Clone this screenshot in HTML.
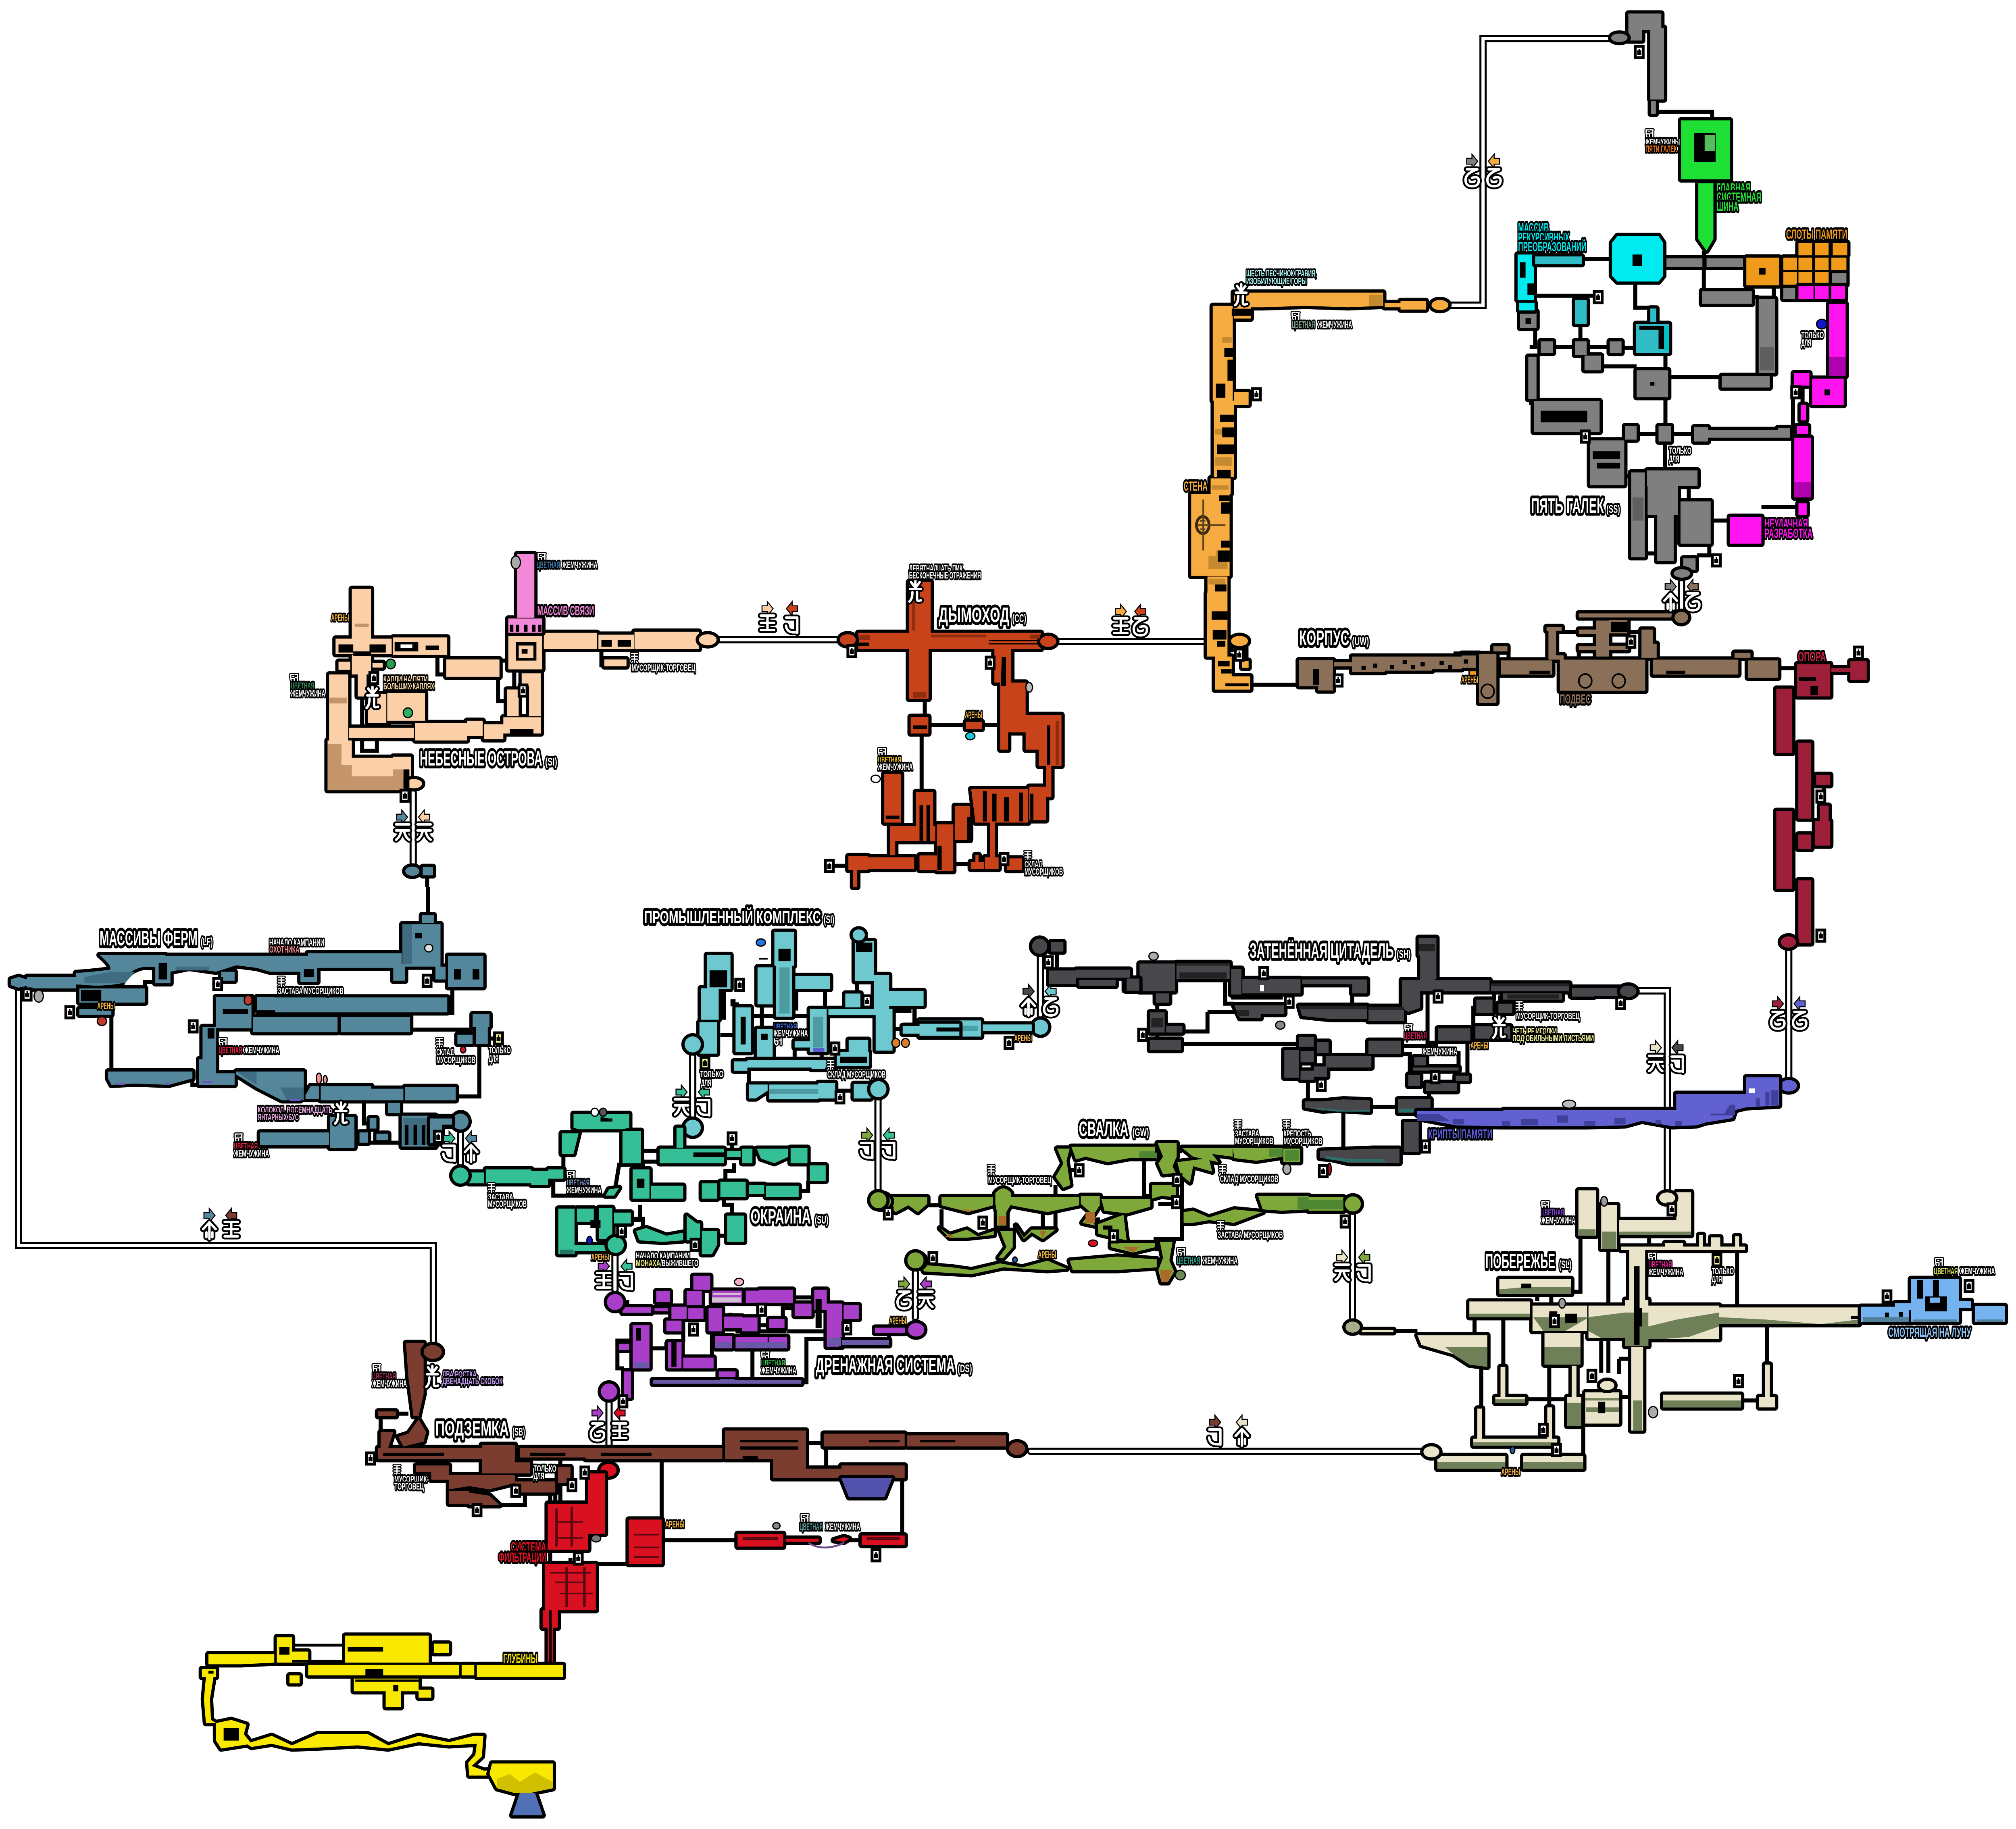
<!DOCTYPE html>
<html lang="ru"><head><meta charset="utf-8"><title>Карта</title>
<style>
html,body{margin:0;padding:0;background:#fff;width:100%;height:4537px;overflow:hidden}
svg{display:block;width:100%;height:4537px}
svg *{vector-effect:non-scaling-stroke}
.l{fill:none;stroke:#000;stroke-width:10}
.r{stroke:#000;stroke-width:16;stroke-linejoin:round;paint-order:stroke}
.o{fill:none;stroke:#000;stroke-width:18;stroke-linecap:round;stroke-linejoin:miter}
.i{fill:none;stroke:#fff;stroke-width:8;stroke-linecap:round;stroke-linejoin:miter}
.b{fill:none;stroke:#000;stroke-width:15;stroke-linecap:round;stroke-linejoin:round}
.w{fill:none;stroke:#fff;stroke-width:6;stroke-linecap:round;stroke-linejoin:round}
.bs{fill:none;stroke:#000;stroke-width:8;stroke-linecap:round}
.ws{fill:none;stroke:#fff;stroke-width:3;stroke-linecap:round}
text{font-family:"Liberation Sans Narrow","Liberation Sans","Noto Sans CJK SC",sans-serif;paint-order:stroke;stroke:#000;stroke-linejoin:round}
.h{font-size:52px;font-weight:700;fill:#fff;stroke-width:13}
.m{font-size:28px;font-weight:700;fill:#fff;stroke-width:9}
.c{font-size:32px;font-weight:700;stroke-width:10}
.s{font-size:23px;font-weight:700;fill:#fff;stroke-width:8}
</style></head><body>
<svg xmlns="http://www.w3.org/2000/svg" viewBox="0 0 6094 4537" preserveAspectRatio="none">
<defs>
<path id="ar" stroke="#000" stroke-width="5" paint-order="stroke" d="M-15-6H1V-14L15 0L1 14V6H-15Z"/>
<path id="al" stroke="#000" stroke-width="5" paint-order="stroke" d="M15-6H-1V-14L-15 0L-1 14V6H15Z"/>
<path id="p1" d="M-19 0L0-17L19 0M0-17V24M-9 8V20M9 8V20"/>
<path id="p2" d="M-18-16H16V22M-18 4Q-16 24 16 20"/>
<path id="p3" d="M-20-18H20M-20 0H20M-20 18H20M0-18V18"/>
<path id="p4" d="M-20-18H20M-20-3H20M-4-3Q-8 14-20 20M4-3Q8 14 20 20"/>
<path id="p5" d="M-16-18H16Q-20-8-20 8Q-20 24 0 24Q20 24 20 10Q20-2 0 3"/>
<g id="s1"><use href="#p1" class="b"/><use href="#p1" class="w"/></g>
<g id="s2"><use href="#p2" class="b"/><use href="#p2" class="w"/></g>
<g id="s3"><use href="#p3" class="b"/><use href="#p3" class="w"/></g>
<g id="s4"><use href="#p4" class="b"/><use href="#p4" class="w"/></g>
<g id="s5"><use href="#p5" class="b"/><use href="#p5" class="w"/></g>
<path id="pq" d="M-9-12H9M-9-5H9M-9 2H9M0-12V12M-6 8L-9 12M6 8L9 12"/>
<path id="pp" d="M-10-10H-1M-10-10Q-11 8 -4 10Q2 8 0 0H-8M3-10H11M4-2H10M10-10V10"/>
<path id="pf" d="M-13-22L0-8L13-22M0-26V-8M-16-5H16M-9 3Q-9 20-18 26M5 3V20Q5 27 17 23"/>
<g id="q"><use href="#pq" class="bs"/><use href="#pq" class="ws"/></g>
<g id="pe"><use href="#pp" class="bs"/><use href="#pp" class="ws"/></g>
<g id="fl"><use href="#pf" class="b"/><use href="#pf" class="w"/></g>
<g id="sh"><rect x="-12" y="-14" width="24" height="28" fill="#fff" stroke="#000" stroke-width="7"/><path fill="#000" d="M-6-4H-2V-8H2V-4H6V7H-6Z"/></g>
<g id="sy"><rect x="-12" y="-14" width="24" height="28" fill="#f8f68a" stroke="#000" stroke-width="7"/><path fill="#000" d="M-6-4H-2V-8H2V-4H6V7H-6Z"/></g>
</defs>

<!-- double gate lines -->
<g>
<path class="o" d="M56 2460V3090H1310V3330M1249 1966V2141M2175 1587H2531M3201 1591H3640M4384 757H4483V96H4860M5083 1445V1514M5407 2358V2674M4955 2458H5040V2955M2094 2617V2767M3145 2371V2518M1392 2809V2885M1859 3115V3199M2654 2728V2950M2767 3157V3268M4088 3014V3272M1841 3478V3584M3115 3600H4294"/>
<path class="i" d="M56 2460V3090H1310V3330M1249 1966V2141M2175 1587H2531M3201 1591H3640M4384 757H4483V96H4860M5083 1445V1514M5407 2358V2674M4955 2458H5040V2955M2094 2617V2767M3145 2371V2518M1392 2809V2885M1859 3115V3199M2654 2728V2950M2767 3157V3268M4088 3014V3272M1841 3478V3584M3115 3600H4294"/>
</g>

<!-- FARM -->
<g transform="translate(0 2200) scale(1.0204 .6378)">
<path class="l" d="M1268 0V112M1340 390V490H1240M430 395V370H470M330 497V718M1215 555H1400M1420 610V815H1345M1078 830V920H1095M1090 995H1190M1160 830V880M640 555H600M570 740V770H600M640 760H700M905 825H950M1300 325H1327M1480 590H1445"/>
<path class="r" fill="#55879c" d="M32 360L55 350L80 360V385L55 392L32 382ZM80 350H225V395H80ZM295 265H490V315L430 310Q380 320 360 375Q300 390 240 380L225 380V335Q280 330 325 322Q335 310 295 265ZM490 268H912V330H800L760 315L700 305L640 330L560 315L505 330H490ZM912 258H1190V315H912ZM890 310H940V370H890ZM460 290H505V375H460ZM655 330H695V365H655ZM1165 300H1200V365H1165ZM1192 145H1305V310H1192ZM1250 110H1285V140H1250ZM1290 310H1320V360H1290ZM1327 268H1432V390H1327ZM235 395H430V450H235ZM235 475H330V497H235ZM640 428H745V550H640ZM762 428H815V480H762ZM815 430H1325V488H815ZM750 505H1000V565H750ZM1010 505H1215V565H1010ZM1400 495H1450V545H1400ZM1410 545H1445V610H1410ZM1355 575H1400V610H1355ZM320 718H570V745L500 770L400 765L330 770L320 745ZM590 670H640V770H590ZM600 545H640V670H600ZM640 725H695V770H640ZM700 718H900V820L890 830H835L760 780L700 730ZM920 775H945V825H905V810ZM950 775H1100V830H950ZM1100 785H1195V830H1100ZM1200 778H1350V830H1200ZM1150 840H1185V880H1150ZM1190 890H1290V1010H1190ZM1295 895H1340V930H1295ZM1095 900H1115V940H1095ZM1065 955H1090V995H1065ZM1115 960H1150V985H1115ZM770 955H975V1005H770ZM978 895H1050V1015H978Z"/>
<ellipse class="r" fill="#55879c" cx="1365" cy="910" rx="22" ry="30"/>
<path fill="#3f6c80" d="M330 330H400L370 375H250V350ZM520 310H620V325H520ZM1192 145H1220V300H1192ZM1195 900H1285V1005H1195ZM700 718H760V770ZM830 780H900V830H850Z"/>
<path fill="#000" d="M470 295H495V360H470ZM900 320H930V350H900ZM240 400H300V445H240ZM660 475H735V495H660ZM615 550H635V590H615ZM1200 925H1210V1005H1200ZM1225 925H1235V1005H1225ZM1250 925H1260V1005H1250ZM1270 925H1280V1005H1270ZM1345 320H1365V360H1345ZM1400 320H1420V360H1400ZM1230 180H1250V200H1230Z"/>
<path fill="#6a58b8" d="M345 762H370V770H345ZM490 762H505V770H490ZM600 755H630V764H600ZM860 825H890V833H860Z"/>
<ellipse fill="#ddd" stroke="#000" stroke-width="3" cx="1270" cy="238" rx="12" ry="15"/>
</g>

<!-- SKY ISLANDS -->
<g transform="translate(800 1300) scale(.8929 .574)">
<path class="l" d="M585 565V650H615M795 590H825M790 660V765H820M550 1520V1568M1140 540V610H1150M360 700H375V640M845 640V720H820M875 700H895M330 745V880M420 860V880M330 925V980H380V925M280 900V1000"/>
<path class="r" fill="#fbd0a9" d="M295 280H360V495H295ZM240 495H430V562H240ZM435 490H618V565H435ZM295 565H360V650H345V745H315V650H295ZM250 595H290V630H250ZM365 600H400V620H365ZM218 650H283V935H218ZM213 935H295V1150H213ZM295 1010H435V1150H295ZM435 1005H495V1100H470V1150H435ZM615 585H795V660H615ZM825 470H940V628H825ZM945 470H1125V540H945ZM1130 478H1250V540H1130ZM1252 465H1470V540H1252ZM1150 585H1225V615H1150ZM350 735H412V860H350ZM415 730H543V850H415ZM285 880H505V925H285ZM510 860H685V935H510ZM685 850H738V915H685ZM742 865H808V930H742ZM808 835H935V905H808ZM820 715H860V830H820ZM895 700H935V830H895ZM870 645H935V700H870Z"/>
<ellipse class="r" fill="#fbd0a9" cx="1500" cy="500" rx="30" ry="24"/>
<ellipse class="r" fill="#fbd0a9" cx="505" cy="1122" rx="28" ry="20"/>
<path class="r" fill="#f488d8" d="M855 130H913V405H855ZM825 408H940V470H825Z"/>
<path fill="#c4946a" d="M213 1040H295V1150H213ZM295 1090H435V1150H295ZM213 950H260V1040H213ZM435 1060H470V1150H435ZM218 750H278V775H218ZM305 430H352V445H305Z"/>
<path fill="#000" d="M250 520H300V555H250ZM355 520H410V555H355ZM300 550H360V570H300ZM440 510H520V550H440ZM545 525H590V545H545ZM1140 500H1175V530H1140ZM1195 500H1240V530H1195ZM850 510H920V525H850ZM850 525H860V590H850ZM910 525H920V590H910ZM860 580H910V590H860ZM870 540H890V560H870ZM850 435H862V465H850ZM878 435H890V465H878ZM905 435H917V465H905ZM830 435H842V465H830ZM925 435H937V465H925ZM470 1060H490V1140H470ZM830 885H910V905H830ZM1140 590H1150V610H1140Z"/>
<path fill="#fff" d="M460 520H500V535H460Z"/>
<ellipse class="r" fill="#55879c" cx="500" cy="1500" rx="24" ry="20"/>
<path class="r" fill="#55879c" d="M535 1482H570V1518H535Z"/>
</g>

<!-- CHIMNEY -->
<g transform="translate(2400 1300) scale(.6378 .574)">
<path class="l" d="M620 755V835M605 905V1160M640 868H815M890 868H975M750 1470H838M190 1477H258M570 1477H595"/>
<path class="r" fill="#c9431a" d="M545 250H648V470H545ZM305 470H1170V540H305ZM545 540H638V755H545ZM950 540H1030V685H950ZM978 685H1015V975H978ZM1015 685H1098V900H1015ZM1098 825H1160V975H1098ZM1160 825H1268V1045H1160ZM1195 1045H1220V1180H1195ZM1115 1135H1195V1280H1115ZM840 1145H1110V1290H860ZM762 1218H835V1365H762ZM678 1298H755V1500H678ZM480 1305H670V1370H480ZM578 1158H660V1305H578ZM455 1305H480V1430H455ZM428 1080H508V1290H428ZM258 1435H350V1495H258ZM350 1440H570V1490H350ZM595 1432H680V1495H595ZM838 1460H860V1430H875V1460H900V1490H838ZM905 1440H970V1490H905ZM930 1290H952V1440H930ZM1010 1445H1080V1495H1010ZM280 1495H300V1568H280ZM553 833H637V905H553ZM815 855H890V885H815Z"/>
<ellipse class="r" fill="#c9431a" cx="255" cy="500" rx="38" ry="24"/>
<ellipse class="r" fill="#c9431a" cx="1205" cy="507" rx="38" ry="24"/>
<path fill="#8f2c0e" d="M650 478H910V490H650ZM560 280H575V460H560ZM310 480H360V500H310ZM1120 478H1165V495H1120ZM565 725H625V750H565ZM1240 850H1255V1040H1240Z"/>
<path fill="#000" d="M985 575H1005V700H980ZM595 1215H612V1370H595ZM628 1215H645V1370H628ZM895 1155H915V1285H895ZM940 1165H960V1285H940ZM995 1180H1020V1285H995ZM1068 1160H1085V1285H1068ZM1120 1165H1135V1280H1120ZM1200 870H1215V1040H1200ZM820 1265H835V1365H820ZM680 1390H700V1495H680ZM300 512H355V527H300ZM925 500H1160V506H925ZM925 515H1160V520H925ZM565 870H630V885H565ZM435 1260H500V1275H435Z"/>
</g>

<!-- WALL + start HULL -->
<g transform="translate(3500 650) scale(.6378 .7015)">
<path class="l" d="M835 1422H920M440 1495H665M430 468H445M350 1380V1340M420 1350V1410"/>
<path class="r" fill="#f7ac42" d="M260 155H355V490H260ZM360 108H440V200H360ZM440 108H1068V155L900 160L700 155L500 160H440ZM1075 145H1150V160H1075ZM1150 138H1270V168H1150ZM265 490H360V760H265ZM250 765H345V820H250ZM158 820H340V1110H158ZM235 1112H330V1170H235ZM232 1170H330V1395H232ZM270 1395H350V1465H438V1512H270ZM360 460H430V505H360ZM400 1410H430V1435H400Z"/>
<ellipse class="r" fill="#f7ac42" cx="1337" cy="152" rx="40" ry="18"/>
<ellipse class="r" fill="#f7ac42" cx="387" cy="1340" rx="40" ry="18"/>
<path fill="#c38a2f" d="M1000 115H1065V155H1000ZM240 1040H330V1085H240ZM275 1040H320V1020H275ZM305 265H350V285H305ZM270 590H340V610H270ZM270 690H350V720H270ZM255 790H335V805H255ZM240 1120H320V1140H240Z"/>
<path fill="#000" d="M315 305H355V335H315ZM330 345H355V420H330ZM275 430H320V480H275ZM295 540H360V565H295ZM305 585H360V620H305ZM280 645H360V680H280ZM280 735H345V760H280ZM290 825H340V845H290ZM300 850H345V890H300ZM300 985H340V1010H300ZM285 1020H340V1060H285ZM270 1140H325V1165H270ZM255 1235H330V1265H255ZM260 1300H325V1335H260ZM280 1340H320V1360H280ZM350 165H450V190H350ZM285 1410H340V1430H285ZM300 1440H350V1455H300ZM320 1490H430V1500H320Z"/>
<ellipse fill="none" stroke="#3a2a10" stroke-width="7" cx="213" cy="930" rx="30" ry="30"/>
<path fill="none" stroke="#5a4218" stroke-width="4" d="M215 840V1020M185 930H320M200 915H225M200 945H225"/>
<path class="r" fill="#8b7059" d="M668 1408H830V1515H760V1500H668ZM920 1395H1075V1450H920ZM1075 1395H1300V1445H1075ZM1300 1395H1440V1440H1300ZM1440 1385H1525V1435H1440ZM835 1415H920V1430H835Z"/>
<path fill="#000" d="M735 1440H765V1495H735ZM965 1428H985V1442H965ZM1020 1420H1040V1435H1020ZM1100 1425H1120V1440H1100ZM1160 1408H1180V1422H1160ZM1200 1425H1220V1440H1200ZM1245 1415H1265V1430H1245ZM1335 1410H1355V1425H1335ZM1375 1425H1395V1440H1375ZM1450 1405H1470V1420H1450Z"/>
<path fill="#f7931e" stroke="#000" stroke-width="3" d="M1475 1445H1515V1462H1475Z"/>
</g>

<!-- HULL & SUPPORT -->
<g transform="translate(3900 1450) scale(1.148 .638)">
<path class="l" d="M430 268H535M575 260V295M715 185H760M890 185H925M1285 325H1335M700 280H710M965 265V295M1180 285H1190M1212 285V295M800 290H760V255M1425 332H1475M1323 620H1338M1322 895H1338M1322 1165H1338M1372 760H1385M1372 1015H1382M1405 780V860"/>
<path class="r" fill="#8b7059" d="M497 270H543V460H497ZM555 295H690V350H555ZM710 292H935V413H710ZM805 140H840V290H805ZM760 112H1005V128H760ZM840 138H888V190H840ZM760 240H805V255H760ZM840 238H890V255H840ZM675 165H715V180H675ZM680 180H700V280H680ZM955 292H1180V350H955ZM1205 295H1285V362H1205ZM1170 265H1212V285H1170ZM925 230H965V285H925ZM925 175H955V240H925ZM535 240H572V260H535ZM760 175H805V192H760ZM680 275H720V292H680Z"/>
<ellipse class="r" fill="#8b7059" cx="1030" cy="128" rx="18" ry="22"/>
<path fill="none" stroke="#000" stroke-width="4" d="M760 375a17 27 0 1 0 34 0a17 27 0 1 0-34 0M848 375a17 27 0 1 0 34 0a17 27 0 1 0-34 0M503 415a17 27 0 1 0 34 0a17 27 0 1 0-34 0"/>
<path fill="#000" d="M805 280H840V292H805ZM845 145H888V185H845ZM630 335H685V348H630ZM990 335H1040V348H990Z"/>
<path class="r" fill="#9e1f3a" d="M1335 310H1422V435H1335ZM1425 325H1475V340H1425ZM1475 298H1518V370H1475ZM1280 405H1322V655H1280ZM1338 615H1372V910H1338ZM1385 740H1422V780H1385ZM1395 860H1418V920H1395ZM1382 920H1422V1015H1382ZM1338 972H1372V1028H1338ZM1280 880H1322V1183H1280ZM1338 1150H1372V1395H1338Z"/>
<ellipse class="r" fill="#9e1f3a" cx="1312" cy="1390" rx="20" ry="22"/>
<path fill="#000" d="M1340 360H1385V375H1340ZM1370 395H1390V430H1370Z"/>
</g>

<!-- FIVE PEBBLES -->
<g transform="translate(4400 0) scale(.8291 .9566)">
<path class="l" d="M730 290H935V312M655 730V798H720M285 767H505M905 650V760M290 850V900H270M355 900H435M478 900H562M605 902H660M765 915V960M530 950H660M775 978H970M765 1030V1105M660 1125H740M785 1125H870M763 1145V1220M850 1260V1310M930 1350H1000M1115 1315H1250M1220 1125H1230V1010M1160 775V745M925 1410V1440H880M615 1235H640M690 1435H735M275 1035V1050M1265 1000V1050M1265 1090V1105M1265 1125V1135M1265 1290V1305M1080 770H1105M1140 968V975M455 840V885M460 672H570"/>
<path class="r" fill="#7f7f7f" d="M630 35H750V78H680V105H630ZM710 72H760V258H710ZM712 262H730V295H712ZM757 670H900V692H757ZM915 670H1055V692H915ZM1370 705H1425V738H1370ZM1195 742H1245V775H1195ZM898 755H1080V788H898ZM1105 775H1165V968H1105ZM970 975H1145V1005H970ZM660 960H775V1030H660ZM235 808H295V850H235ZM310 885H355V915H310ZM435 885H478V920H435ZM562 885H605V915H562ZM470 922H530V960H470ZM265 925H295V1035H265ZM285 1040H525V1120H285ZM490 1142H615V1258H490ZM618 1105H660V1140H618ZM740 1105H785V1145H740ZM870 1108H920V1145H870ZM920 1115H1190V1135H920ZM1175 1110H1220V1135H1175ZM640 1225H690V1445H640ZM698 1220H882V1260H698ZM700 1260H810V1335H700ZM735 1335H795V1455H735ZM820 1300H930V1410H820ZM830 1448H875V1478H830Z"/>
<ellipse class="r" fill="#7f7f7f" cx="597" cy="98" rx="30" ry="11"/>
<ellipse class="r" fill="#7f7f7f" cx="825" cy="1487" rx="30" ry="11"/>
<path class="r" fill="#1ee034" d="M822 312H1000V465H822ZM885 475H940V620L915 650L885 620Z"/>
<path class="r" fill="#00eaf0" d="M570 630L590 612H740L757 630V715L740 730H590L570 715ZM226 660H285V778H226ZM232 785H288V805H232Z"/>
<path class="r" fill="#30bcc6" d="M290 665H460V685H290ZM658 840H778V915H658ZM435 778H478V840H435ZM710 800H732V835H710Z"/>
<path class="r" fill="#f09a1c" d="M1060 668H1180V740H1060ZM1250 630H1300V662H1250ZM1310 630H1360V662H1310ZM1375 630H1428V662H1375ZM1195 668H1245V700H1195ZM1250 668H1300V700H1250ZM1310 668H1360V700H1310ZM1370 668H1425V700H1370ZM1195 705H1245V738H1195ZM1250 705H1300V738H1250ZM1310 705H1360V738H1310Z"/>
<path class="r" fill="#ff14f0" d="M1250 742H1305V775H1250ZM1310 742H1360V775H1310ZM1370 742H1420V775H1370ZM1362 788H1422V975H1362ZM1300 982H1415V1050H1300ZM1233 968H1290V1000H1233ZM1258 1050H1278V1090H1258ZM1245 1105H1285V1125H1245ZM1235 1135H1295V1290H1235ZM1250 1305H1280V1335H1250ZM1000 1340H1115V1410H1000Z"/>
<path fill="#000" d="M645 660H680V690H645ZM870 345H948V420H870ZM885 405H900V420H885ZM885 405H935V412H885ZM1107 695H1130V712H1107ZM310 1065H480V1095H310ZM500 1170H600V1190H500ZM515 1200H600V1215H515ZM235 680H255V720H235ZM262 735H285V765H262ZM670 845H760V855H670ZM740 855H760V905H740ZM1345 1010H1365V1025H1345ZM710 990H725V1000H710ZM255 825H275V840H255Z"/>
<path fill="#55bd60" d="M908 350H945V392H908Z"/>
<path fill="#b000b0" d="M1362 925H1422V975H1362ZM1235 1250H1295V1290H1235Z"/>
<path fill="#5f5f5f" d="M1110 900H1160V960H1110ZM645 1290H685V1350H645Z"/>
<path fill="#00c0c8" d="M760 845H778V910H760Z"/>
</g>

<!-- CITADEL -->
<g transform="translate(3400 2250) scale(.8929 .5102)">
<path class="l" d="M355 320H340V470H370M280 510H375M280 510V605H195M150 665H590M110 610V645M110 465V512M360 440H535M770 375V490M1025 410V660H1060M935 675H1060M870 715H965V820M620 840V950M835 972H925M740 995V1180M1030 1000V850M1180 480V600M1160 650V820M1130 700V850M940 490H945M1250 420V450M1270 430V470M1245 490H1265M600 362H590M690 680V725M595 720H590"/>
<path class="r" fill="#48484c" d="M995 150H1055V235H995ZM1000 235H1055V350H1000ZM1000 350H1050V410H1000ZM938 355H1000V490L960 510L938 490ZM1050 355H1235V410H1050ZM1240 372H1505V410H1240ZM1280 420H1480V450H1280ZM1510 395H1568V432H1510ZM1190 450H1245V515H1190ZM1265 470H1312V515H1265ZM1060 590H1170V650H1060ZM1187 580H1305V640H1187ZM825 650H935V715H825ZM980 730H1020V770H980ZM975 780H1130V795H975ZM960 815H1000V870H960ZM1120 820H1165V845H1120ZM1020 855H1125V895H1020ZM610 945H670L740 935L830 940V995L760 990L720 985L670 990L610 975ZM925 935H1035V1000H925ZM660 1185L840 1175H930V1245H760L700 1225L660 1220ZM945 1045H995V1190H945ZM590 480H820V545H700L600 530ZM825 485H945V555H825ZM370 478H540V520H460V540H390ZM50 275H170V410H50ZM175 272H355V350H175ZM360 300H395V425H360ZM398 350H595V420H398ZM600 352H820V375H600ZM770 355H820V420H770ZM105 420H150V465H105ZM85 512H135V610H85ZM140 578H195V610H140ZM85 645H190V695H85ZM590 632H640V680H590ZM650 655H690V710H650ZM540 695H590V830H540ZM595 700H640V755H595ZM680 725H835V780H680ZM595 795H640V840H595ZM640 775H685V825H640ZM0 350H50V405H0Z"/>
<path fill="#2d6f6a" d="M640 975L720 985L760 990L830 985V995H760L720 995L660 985ZM930 980H985V998H930ZM680 1210L760 1225H880V1240H760L680 1225Z"/>
<path fill="#222" d="M185 318H345V348H185ZM465 380H475V410H465ZM90 540H130V585H90ZM995 180H1050V215H995ZM590 480H820V497H590ZM825 485H945V500H825ZM175 272H355V285H175ZM1240 372H1505V385H1240ZM1295 425H1470V445H1295ZM380 500H420V530H380Z"/>
<path fill="#fff" d="M458 380H472V410H458Z"/>
</g>
<g transform="translate(2650 2250) scale(.9566 .6696)">
<path class="l" d="M570 165V235M800 265H790M515 145H550"/>
<path class="r" fill="#48484c" d="M550 130H590V165H550ZM545 235H630V285H545ZM630 232H800V262H630ZM640 270H755V292H640ZM790 265H830V310H790Z"/>
<ellipse class="r" fill="#48484c" cx="515" cy="145" rx="24" ry="28"/>
<ellipse class="r" fill="#6dc9cf" cx="518" cy="445" rx="24" ry="28"/>
<path class="r" fill="#6dc9cf" d="M85 440H135V465H85ZM135 420H330V480H135ZM335 435H490V460H335Z"/>
<path fill="#48a0a8" d="M200 440H320V460H200Z"/>
<path class="l" d="M120 350V440M45 385H110"/>
</g>
<!-- Citadel right end + CRYPTS -->
<g transform="translate(4300 2200) scale(.8291 .4464)">
<path class="l" d="M725 600V625"/>
<path class="r" fill="#48484c" d="M545 560H725V605H625V610H545Z"/>
<ellipse class="r" fill="#48484c" cx="750" cy="580" rx="30" ry="32"/>
<ellipse class="r" fill="#6161d2" cx="1335" cy="1105" rx="30" ry="32"/>
<path class="r" fill="#6161d2" d="M-20 1245H295V1240H925V1150H1180V1058H1300V1215L1180 1225L1140 1240L1130 1285L1030 1310L1000 1325L910 1330L800 1300L740 1325L600 1330L400 1330L280 1330L120 1325L0 1290L-20 1265Z"/>
<path fill="#3f3f9c" d="M1250 1140H1265V1215H1250ZM1270 1130H1295V1215H1270ZM1215 1175H1230V1220H1215ZM1120 1210H1140V1270H1050V1260H1100ZM700 1285H740V1320H700ZM360 1290H420V1325H360ZM290 1300H320V1330H290ZM490 1270H530V1310H490ZM590 1300H630V1330H590ZM850 1295H870V1320H850ZM110 1290H150V1320H110ZM920 1300H945V1330H920ZM-20 1262H60L100 1300H-20Z"/>
<path fill="#fff" d="M1190 1120H1212V1145H1190Z"/>
</g>

<!-- WASTES -->
<g transform="translate(2650 2250) scale(.9566 .6696)">
<path class="l" d="M565 1030V1195H490M845 940V1070H870M965 950V1230H875M885 1230V1275M205 1120V1190M525 1130V1190M160 1105H205M950 905H965M640 975H610M370 1190H420M430 1105H425M700 1150V1190H740M890 1100H960"/>
<path class="r" fill="#7fa83a" d="M40 1075H160V1100L130 1130L100 1105L60 1130L40 1110ZM205 1075H368V1105L290 1130L205 1105ZM425 1075H640V1105L540 1130L470 1115L425 1105ZM645 1070H705V1105L680 1150L690 1180L650 1170L675 1130L645 1100ZM710 1082H865V1110L790 1135L720 1125ZM615 888H885V930L800 930L730 945L660 925L630 935ZM888 875H948V925L935 960L945 985L905 990L890 950L905 925ZM965 892H1125V925L1060 915L1080 945L1000 925ZM1125 892H1283V925L1200 940L1130 930ZM1285 895H1338V945H1285ZM570 895H610L600 940L612 1030L590 1040L565 1000L590 950ZM870 1030H945V1075L900 1070L870 1080ZM950 945L1050 930L1060 980L1000 960L990 1020L960 990ZM1205 1070H1365V1120L1280 1125L1220 1120ZM1365 1075H1475V1125H1365ZM970 1130L1000 1125L1050 1150L1130 1120L1220 1130L1130 1170L1050 1160L1000 1170H970ZM200 1190L230 1215L285 1195L320 1220L370 1200V1215L285 1225L230 1225ZM440 1180L465 1225L490 1195H565L525 1230L490 1205L465 1230ZM375 1060Q400 1025 425 1060V1100L410 1130V1180H380V1130L375 1100ZM390 1200H430V1260L400 1300H385L410 1260ZM140 1325L240 1335L300 1345L390 1320L460 1335L540 1310L600 1340L540 1345L400 1335L300 1360L150 1350ZM610 1310L760 1295L885 1305V1335L760 1345L620 1345ZM895 1240H935L925 1310L940 1350L920 1390H900L890 1345L905 1300ZM700 1175L780 1140L790 1235L700 1210ZM740 1245H880V1260L810 1280L740 1260Z"/>
<ellipse class="r" fill="#7fa83a" cx="15" cy="1090" rx="30" ry="28"/>
<ellipse class="r" fill="#7fa83a" cx="1505" cy="1100" rx="25" ry="28"/>
<ellipse class="r" fill="#7fa83a" cx="125" cy="1310" rx="28" ry="28"/>
<path fill="#4f8732" d="M1240 895H1283V925H1240ZM1330 1075H1365V1120H1330ZM1365 1085H1475V1120H1365ZM1290 900H1335V940H1290ZM880 915H885V935ZM830 905H885V930H830Z"/>
<path fill="#a96a2a" d="M895 1345H935L920 1390H900ZM385 1145H410V1178H385ZM660 1130H690V1170H660ZM270 1120L290 1130L310 1122ZM780 1260H830L810 1280ZM230 1212L245 1222H215ZM515 1200H535L525 1228Z"/>
<path fill="#000" d="M710 1095H705V1085H710ZM880 890H890V910H880ZM715 1180H745V1195H715ZM735 1180H745V1210H735Z"/>
</g>

<!-- INDUSTRIAL / OUTSKIRTS / DRAINAGE -->
<g transform="translate(1300 2300) scale(1.0204 .7653)">
<path class="l" d="M890 240H905M860 350H905M950 288H1125M983 250V330M1180 288H1320M1085 200V270M1170 200V265M870 200V300M945 430V560M1160 405V430M940 440H905M1265 175V215M1080 390V430M1435 255V320M1405 330H1345M1000 530H1005M1200 530H1255M1300 400V430M890 250H915"/>
<path class="r" fill="#6dc9cf" d="M820 90H890V200H820ZM802 198H855V300H802ZM798 308H850V410H798ZM905 260H950V405H905ZM970 130H1015V250H970ZM968 330H1015V420H968ZM1020 15H1078V125H1020ZM1025 125H1073V290H1025ZM1082 158H1185V200H1082ZM1125 265H1175V405H1125ZM1180 265H1320V285H1180ZM1258 45H1315V175H1258ZM1315 155H1360V265H1315ZM1360 207H1462V255H1360ZM1320 265H1370V400H1320ZM1230 215H1275V260H1230ZM1080 370H1125V390H1080ZM1240 365H1298V405H1240ZM900 435H940V465H900ZM940 430H1200V455H940ZM1130 430H1170V460H1130ZM1205 405H1300V450H1205ZM945 510H1000V530L965 555H945ZM1005 510H1150V558H1005ZM1150 505H1200V555H1150ZM1255 508H1305V555H1255ZM1400 320H1450V345H1400ZM1450 313H1568V352H1450Z"/>
<ellipse class="r" fill="#6dc9cf" cx="778" cy="380" rx="24" ry="26"/>
<ellipse class="r" fill="#6dc9cf" cx="1328" cy="525" rx="24" ry="26"/>
<ellipse class="r" fill="#6dc9cf" cx="1270" cy="25" rx="18" ry="18"/>
<ellipse class="r" fill="#6dc9cf" cx="778" cy="650" rx="24" ry="26"/>
<path fill="#000" d="M828 140H880V195H828ZM1032 70H1068V110H1032ZM1262 50H1310V80H1262ZM1215 420H1295V440H1215ZM1500 325H1568V338H1500ZM975 100H1000V105H975ZM920 290H935V380H920ZM980 345H1000V365H980Z"/>
<path fill="#4d9aa0" d="M1035 130H1065V280H1035ZM1005 525H1150V540H1005ZM1135 290H1165V390H1135Z"/>
<path fill="#5b5bd0" d="M1135 392H1168V405H1135Z"/>

<path class="l" d="M160 810H165M395 800H365V870H545L560 770H595M395 735V785M440 680H420M580 650V660M625 725H680M870 735H880M920 735H925M955 735H968M1060 735H1068M1120 735V772M1120 822V855H1095M650 790H630V760H680M900 765V790H875V825M870 875V900H895V935M850 1000H880M750 1000H760M595 945H630V985M740 650V715M895 700V725M930 1020H880M600 950H622V900M428 1035H410M485 940H500M540 940H545"/>
<path class="r" fill="#35bf96" d="M390 668H440L425 735H390ZM425 605H590V650L570 655L550 655H440L425 650ZM570 660H625V765H570ZM115 795H160V830H115ZM165 785H300V830H165ZM300 790H350V835H300ZM350 785H395V815H350ZM680 718H870V765H680ZM880 725H920V745H880ZM925 718H955V765H925ZM968 718H1060V745L1020 765L980 750ZM1068 715H1118V765H1068ZM1125 772H1172V822H1125ZM600 785H650V880H600ZM655 838H750V880H655ZM805 830H850V880H805ZM860 825H900V875H860ZM900 825H935V875H900ZM945 835H990V865H945ZM995 838H1092V875H995ZM880 935H930V1020H880ZM610 985L640 975L700 1000L750 990V1015L690 1020L620 1015ZM760 935L790 960H800V1015H760ZM805 985H850V1030L835 1060H805ZM380 912H428V1060H380ZM435 912H485V955H435ZM500 910H540V1010H500ZM545 925H595V960H545ZM410 1030H520V1050H410ZM730 650H750V715H730ZM530 850L560 845L545 870H520Z"/>
<ellipse class="r" fill="#55879c" cx="90" cy="630" rx="24" ry="26"/>
<ellipse class="r" fill="#35bf96" cx="90" cy="805" rx="24" ry="26"/>
<ellipse class="r" fill="#35bf96" cx="550" cy="1030" rx="24" ry="26"/>
<path class="r" fill="#55879c" d="M0 620H65V640H35V700H0Z"/>
<path fill="#000" d="M612 815H635V845H612ZM475 950H505V975H475ZM530 620H540V630H505V615ZM780 730H870V745H780Z"/>
<path fill="#1e7a64" d="M385 1045H425V1060H385Z"/>

<path class="l" d="M655 1240H665M705 1240H715M810 1250H825M875 1200H835M925 1198H935M1075 1200H1138M1045 1270V1235H1080M1130 1240H1175M1220 1340V1300H1225M970 1290H1005M1050 1285V1310H905M1058 1310H1170M835 1310V1395M1170 1335H1115V1475H1100M955 1365V1470M890 1250V1262M750 1345V1270M650 1365H700V1345M600 1340H555V1430H575M590 1440V1525M1360 1320V1345M1220 1345H1360M590 1215H572"/>
<path class="r" fill="#a93fc9" d="M570 1232H655V1250H570ZM665 1235H705V1245H665ZM715 1230H760V1270H715ZM765 1235H810V1270H765ZM825 1235H865V1310H825ZM780 1130H830V1175H780ZM835 1178H925V1218H835ZM935 1178H975V1218H935ZM975 1175H1075V1218H975ZM1138 1175H1175V1240H1138ZM670 1180H710V1215H670ZM760 1180H805V1225H760ZM1080 1220H1130V1260H1080ZM1175 1220H1220V1360H1175ZM1225 1225H1270V1270H1225ZM870 1262H925V1300H870ZM925 1265H970V1310H925ZM1005 1270H1050V1300H1005ZM905 1328H1000V1365H905ZM1005 1328H1058V1365H1005ZM845 1325H895V1365H845ZM700 1275H745V1310H700ZM600 1290H650V1430H600ZM705 1345H745V1430H705ZM750 1395H840V1430H750ZM855 1440H905V1480H855ZM1318 1298H1420V1315H1318ZM560 1350H590V1370H560ZM575 1440H595V1525H575Z"/>
<path class="r" fill="#6a58a8" d="M660 1468H1100V1480H660ZM1220 1338H1360V1355H1220Z"/>
<ellipse class="r" fill="#a93fc9" cx="548" cy="1215" rx="24" ry="26"/>
<ellipse class="r" fill="#a93fc9" cx="1440" cy="1305" rx="24" ry="22"/>
<ellipse class="r" fill="#a93fc9" cx="530" cy="1505" rx="24" ry="26"/>
<ellipse class="r" fill="#7fa83a" cx="1328" cy="885" rx="24" ry="26"/>
<ellipse class="r" fill="#7fa83a" cx="1438" cy="1080" rx="24" ry="26"/>
<path fill="#6a58a8" d="M1178 1330H1218V1358H1178ZM908 1345H1055V1363H908ZM848 1345H892V1363H848ZM605 1410H645V1428H605ZM858 1465H902V1478H858Z"/>
<path fill="#000" d="M1142 1205H1160V1300H1142ZM715 1345H730V1425H715ZM610 1300H625V1340H610Z"/>
<path fill="#d0c0d0" d="M838 1185H920V1192H838ZM835 1200H920V1216H835Z"/>
</g>

<!-- SUBTERRANEAN / FILTRATION / DEPTHS -->
<g transform="translate(500 3300) scale(1.5306 .7889)">
<path class="l" d="M450 262H480M425 270V320M1265 355H1300M1305 365V435M1265 435H1335M1455 465V645M980 405V600M760 510V735M780 405V545M850 735H915M980 660H1130M1225 660H1290M1375 660H1350M562 505V545H600M660 550H710V510M610 550V570M770 480V545M800 730V715M1403 680V700"/>
<path class="r" fill="#7a3d30" d="M475 40H510V200L500 270H490L480 150ZM420 255H455V270H420ZM425 320H450L440 370H425ZM460 335L480 325L500 280L515 320L510 350L470 365ZM420 370H625V405H420ZM625 360H690V450H625ZM700 370H830V400H700ZM830 370H1100V405H830ZM1105 315H1265V405H1105ZM1300 325H1460V365H1300ZM1465 330H1660V365H1465ZM1200 405H1265V465H1200ZM1265 435H1335V465H1265ZM1335 425H1460V465H1335ZM495 425H525V445H495ZM525 425H560V470H525ZM560 455H690V480L640 500L600 490L560 500ZM690 475H770V510H690ZM560 505H600V545H560ZM600 510L640 520L660 550H600ZM685 415H720V450H685ZM775 430H800V480H775Z"/>
<ellipse class="r" fill="#7a3d30" cx="528" cy="68" rx="18" ry="22"/>
<ellipse class="r" fill="#7a3d30" cx="1682" cy="372" rx="16" ry="20"/>
<ellipse class="r" fill="#d81020" cx="875" cy="440" rx="16" ry="20"/>
<path class="r" fill="#5353ad" d="M1335 465H1435L1420 525H1350Z"/>
<path fill="#000" d="M430 385H550V395H430ZM720 385H790V395H720ZM860 385H960V395H860ZM1135 345H1250V352H1135ZM1135 365H1250V375H1135ZM1390 345H1450V352H1390ZM1490 345H1560V352H1490ZM1140 395H1170V405H1140Z"/>
<path class="r" fill="#d81020" d="M755 545H835V690H755ZM835 450H868V640H835ZM750 735H850V880H750ZM915 595H980V735H915ZM745 880H775V935H745ZM755 935H765V1050H755ZM1130 640H1220V680H1130ZM1225 655H1290V665H1225ZM1340 650L1320 660L1340 665L1350 655ZM1375 645H1460V675H1375Z"/>
<path fill="#5c0812" d="M770 560H775V680H770ZM800 555H805V680H800ZM770 600H825V605H770ZM770 650H825V655H770ZM760 760H840V765H760ZM770 790H830V795H770ZM780 825H845V830H780ZM790 745H795V870H790ZM825 745H830V870H825ZM925 640H975V645H925ZM925 680H975V685H925ZM925 710H975V715H925ZM1140 650H1210V660H1140ZM1385 650H1450V660H1385Z"/>
<path fill="#6a4a8a" d="M1270 665Q1300 695 1340 665V672Q1300 700 1270 672Z"/>
<path class="r" fill="#f9e900" d="M85 1018H215V1045L150 1050H85ZM220 965H250V1045H220ZM250 1010H282V1045H250ZM355 960H520V1045H355ZM530 985H560V1015H530ZM282 1052H580V1085H282ZM585 1052H610V1085H585ZM615 1052H785V1090H615ZM372 1095H500V1135H372ZM435 1135H465V1185H435ZM245 1085H265V1110H245ZM500 1130H525V1155H500ZM72 1065H100V1090H72ZM80 1090H95L88 1160L90 1225L100 1235L80 1235L76 1160ZM100 1235L130 1225L160 1240L155 1270L170 1300L110 1315L100 1290ZM160 1300L210 1275L250 1305L300 1270L350 1270L400 1270L440 1305L500 1275L560 1295L610 1275H628L625 1340L605 1370L630 1385L650 1380L640 1400L600 1400L598 1360L612 1335L615 1300L560 1305L500 1295L440 1315L380 1305L300 1312L250 1315L210 1300L170 1310Z"/>
<path class="r" fill="#f9e900" d="M645 1362H765V1440L720 1455H690L655 1440L640 1395Z"/>
<path class="r" fill="#5070b8" d="M700 1455H730L745 1525H685Z"/>
<path fill="#000" d="M360 995H430V1010H360ZM225 995H245V1020H225ZM395 1065H430V1085H395ZM115 1250H145V1290H115ZM375 1098H500V1105H375ZM450 1115H460V1135H450Z"/>
<path fill="#d0c000" d="M655 1410L680 1395L700 1420L730 1390L765 1420V1440L720 1455H690L655 1440Z"/>
<path fill="none" stroke="#000" stroke-width="7" d="M250 990H355M250 1040H355M95 1075H85"/>
<path fill="none" stroke="#000" stroke-width="7" d="M760 880V1052"/>
</g>

<!-- COAST / MOON -->
<g transform="translate(4200 2900) scale(1.2079 .574)">
<path class="l" d="M478 288V530H455M285 640V855M213 640V718M405 545V590M370 545V570M400 700V1035M460 700V850M548 345V880M530 735V880M230 855V1035M625 1000H600M340 995H445M575 820H605V815M575 885V820M880 1000H925M400 1170V1180M575 985H600M650 220V335M870 290V598M945 670V845M820 350V380M485 1000V1240M-70 700H70"/>
<path class="r" fill="#e9e3c9" d="M473 92H517V288H473ZM530 155H570V345H530ZM575 220H755V285H575ZM718 100H755V285H718ZM275 475H455V540H275ZM200 572H352V640H200ZM358 590H495V700H358ZM498 590H590V730H498ZM590 565H648V765H590ZM648 590H825V735H648ZM825 598H1175V670H825ZM70 718H245V855L200 845L160 800L80 760ZM388 708H478V845H388ZM600 350H640V565H600ZM605 770H635V1130H605ZM580 335H890V350H580ZM690 320H735V340H690ZM775 285H785V335H775ZM805 295H828V335H805ZM865 290H875V335H865ZM278 855H290V985H278ZM456 850H468V985H456ZM220 1035H232V1170H220ZM395 1030H407V1170H395ZM940 845H952V990H940ZM265 985H340V1010H265ZM445 985H480V1040H445ZM445 1040H480V1110H445ZM490 965H575V1100H490ZM685 975H880V1030H685ZM925 985H965V1030H925ZM210 1165H420V1195H210ZM120 1240H290V1295H120ZM335 1240H485V1295H335ZM-70 695H10V705H-70Z"/>
<ellipse class="r" fill="#e9e3c9" cx="695" cy="125" rx="20" ry="24"/>
<ellipse class="r" fill="#e9e3c9" cx="105" cy="1222" rx="20" ry="24"/>
<ellipse class="r" fill="#e9e3c9" cx="545" cy="935" rx="18" ry="20"/>
<ellipse class="r" fill="#a8ae8c" cx="-92" cy="683" rx="18" ry="24"/>
<path fill="#6f8058" d="M275 520L340 510H455V540H275ZM200 625H352V640H200ZM360 640L500 640L440 700H385ZM498 640L590 620V730H530L498 700ZM590 620H648V765H590ZM648 680L720 650L825 620V680L750 725L680 735H648ZM825 640L940 650L1080 670L1175 650V670H825ZM140 770H245V855L200 845L160 800ZM388 770H478V845H388ZM474 260H516V288H474ZM532 270H568V345H532ZM575 270H755V285H575ZM610 1000H632V1130H610ZM445 1010H480V1110H445ZM490 990H575V1000H490ZM492 1030H575V1050H492ZM120 1265H290V1295H120ZM335 1265H485V1295H335ZM265 995H340V1010H265ZM685 1000H880V1030H685ZM210 1180H420V1195H210Z"/>
<path fill="#000" d="M612 420H626V760H612ZM400 615H420V655H400ZM440 625H470V665H440ZM522 1005H540V1055H522ZM620 600H632V680H620ZM330 495H355V515H330Z"/>
<path class="r" fill="#74b2f0" d="M1180 595H1300V660H1180ZM1305 475H1425V660H1305ZM1465 592H1540V660H1465ZM1265 580H1305V610H1265ZM1425 570H1455V600H1425Z"/>
<path fill="#000" d="M1340 550H1395V615H1340ZM1360 480H1375V550H1360ZM1320 480H1335V560H1320ZM1355 550H1380V575H1355ZM1155 635H1180V648H1155ZM1240 620H1250V640H1240ZM1275 618H1285V638H1275Z"/>
<path fill="#74b2f0" d="M1352 555H1378V578H1352Z"/>
<path fill="#4f7f9a" d="M1185 640H1300V660H1185ZM1310 650H1420V660H1310ZM1470 650H1535V660H1470Z"/>
</g>

<!-- Gate arrows and symbols -->
<g>
<use href="#ar" x="633" y="3015" fill="#55879c"/><use href="#al" x="699" y="3015" fill="#7a3d30"/><use href="#s1" x="633" y="3049"/><use href="#s3" x="699" y="3049"/>
<use href="#ar" x="1215" y="2027" fill="#55879c"/><use href="#al" x="1282" y="2027" fill="#fbd0a9"/><use href="#s4" x="1217" y="2063"/><use href="#s4" x="1282" y="2063"/>
<use href="#ar" x="2320" y="1510" fill="#fbd0a9"/><use href="#al" x="2394" y="1510" fill="#c9431a"/><use href="#s3" x="2320" y="1545"/><use href="#s2" x="2394" y="1548"/>
<use href="#ar" x="3388" y="1517" fill="#f7ac42"/><use href="#al" x="3447" y="1517" fill="#c9431a"/><use href="#s3" x="3388" y="1552"/><use href="#s5" x="3447" y="1552"/>
<use href="#ar" x="4450" y="400" fill="#7f7f7f"/><use href="#al" x="4516" y="400" fill="#f7ac42"/><use href="#s5" x="4450" y="438"/><use href="#s5" x="4516" y="438"/>
<use href="#ar" x="5050" y="1455" fill="#7f7f7f"/><use href="#al" x="5117" y="1455" fill="#8b7059"/><use href="#s1" x="5050" y="1490"/><use href="#s5" x="5117" y="1490"/>
<use href="#ar" x="5374" y="2490" fill="#9e1f3a"/><use href="#al" x="5440" y="2490" fill="#6161d2"/><use href="#s5" x="5374" y="2528"/><use href="#s5" x="5440" y="2528"/>
<use href="#ar" x="5005" y="2599" fill="#e9e3c9"/><use href="#al" x="5071" y="2599" fill="#48484c"/><use href="#s4" x="5005" y="2637"/><use href="#s2" x="5071" y="2637"/>
<use href="#ar" x="2060" y="2709" fill="#35bf96"/><use href="#al" x="2128" y="2709" fill="#35bf96"/><use href="#s4" x="2060" y="2745"/><use href="#s2" x="2128" y="2745"/>
<use href="#ar" x="3109" y="2459" fill="#48484c"/><use href="#al" x="3176" y="2459" fill="#6dc9cf"/><use href="#s1" x="3109" y="2495"/><use href="#s5" x="3176" y="2495"/>
<use href="#ar" x="1358" y="2824" fill="#35bf96"/><use href="#al" x="1424" y="2824" fill="#55879c"/><use href="#s2" x="1358" y="2858"/><use href="#s1" x="1424" y="2858"/>
<use href="#ar" x="1825" y="3141" fill="#a93fc9"/><use href="#al" x="1894" y="3141" fill="#35bf96"/><use href="#s3" x="1825" y="3176"/><use href="#s2" x="1894" y="3176"/>
<use href="#ar" x="2621" y="2816" fill="#7fa83a"/><use href="#al" x="2687" y="2816" fill="#35bf96"/><use href="#s2" x="2621" y="2851"/><use href="#s2" x="2687" y="2851"/>
<use href="#ar" x="2733" y="3185" fill="#7fa83a"/><use href="#al" x="2799" y="3185" fill="#a93fc9"/><use href="#s5" x="2733" y="3222"/><use href="#s4" x="2799" y="3222"/>
<use href="#ar" x="4057" y="3119" fill="#e9e3c9"/><use href="#al" x="4124" y="3119" fill="#7fa83a"/><use href="#s4" x="4057" y="3155"/><use href="#s2" x="4124" y="3155"/>
<use href="#ar" x="1806" y="3505" fill="#a93fc9"/><use href="#al" x="1873" y="3505" fill="#d81020"/><use href="#s5" x="1806" y="3549"/><use href="#s3" x="1873" y="3549"/>
<use href="#ar" x="3673" y="3528" fill="#7a3d30"/><use href="#al" x="3754" y="3528" fill="#e9e3c9"/><use href="#s2" x="3673" y="3562"/><use href="#s1" x="3754" y="3562"/>
</g>

<!-- Shelters -->
<g>
<use href="#sh" x="82" y="2467"/><use href="#sh" x="211" y="2511"/><use href="#sh" x="658" y="2441"/><use href="#sh" x="584" y="2546"/><use href="#sh" x="1291" y="2433"/><use href="#sy" x="1507" y="2576"/><use href="#sh" x="1325" y="2820"/>
<use href="#sh" x="1130" y="1682"/><use href="#sh" x="1581" y="1713"/><use href="#sh" x="1224" y="1974"/>
<use href="#sh" x="2575" y="1615"/><use href="#sh" x="2993" y="1644"/><use href="#sh" x="2507" y="2148"/><use href="#sh" x="3035" y="2131"/>
<use href="#sh" x="3798" y="978"/><use href="#sh" x="3746" y="1624"/><use href="#sh" x="4045" y="1688"/>
<use href="#sh" x="4930" y="1592"/><use href="#sh" x="5618" y="1619"/><use href="#sh" x="5504" y="1976"/><use href="#sh" x="5504" y="2321"/>
<use href="#sh" x="4955" y="129"/><use href="#sh" x="4831" y="737"/><use href="#sh" x="4792" y="1083"/><use href="#sh" x="5428" y="973"/><use href="#sh" x="5188" y="1390"/>
<use href="#sh" x="3820" y="2414"/><use href="#sh" x="3897" y="2485"/><use href="#sh" x="3454" y="2567"/><use href="#sh" x="3994" y="2691"/><use href="#sh" x="4338" y="2672"/><use href="#sh" x="4347" y="2472"/><use href="#sh" x="4309" y="2844"/><use href="#sh" x="4000" y="2905"/><use href="#sh" x="3558" y="2927"/><use href="#sh" x="3556" y="2982"/><use href="#sh" x="4899" y="2488"/>
<use href="#sh" x="3169" y="2387"/><use href="#sh" x="3050" y="2587"/><use href="#sh" x="3262" y="2903"/><use href="#sh" x="2971" y="3033"/><use href="#sh" x="3366" y="3067"/><use href="#sh" x="2685" y="3010"/><use href="#sh" x="2820" y="3121"/><use href="#sh" x="4066" y="3030"/>
<use href="#sh" x="2236" y="2443"/><use href="#sy" x="2131" y="2637"/><use href="#sh" x="2621" y="2484"/><use href="#sh" x="2524" y="2601"/><use href="#sh" x="2539" y="2722"/><use href="#sh" x="2213" y="2824"/><use href="#sh" x="1879" y="3054"/><use href="#sh" x="2101" y="3088"/><use href="#sh" x="2302" y="3249"/><use href="#sh" x="2096" y="3298"/><use href="#sh" x="2560" y="3295"/><use href="#sh" x="1883" y="3476"/>
<use href="#sh" x="1120" y="3618"/><use href="#sh" x="1768" y="3653"/><use href="#sh" x="1729" y="3684"/><use href="#sh" x="1559" y="3698"/><use href="#sh" x="1442" y="3746"/><use href="#sh" x="1748" y="3866"/><use href="#sh" x="2648" y="3858"/>
<use href="#sh" x="5054" y="3000"/><use href="#sy" x="5190" y="3126"/><use href="#sh" x="4699" y="3277"/><use href="#sh" x="5255" y="3426"/><use href="#sh" x="4812" y="3413"/><use href="#sh" x="4665" y="3547"/><use href="#sh" x="4705" y="3597"/><use href="#sh" x="5704" y="3216"/><use href="#sh" x="5952" y="3190"/>
</g>

<!-- Icons -->
<g>
<use href="#q" x="850" y="2436"/><use href="#q" x="1329" y="2588"/><use href="#q" x="1485" y="2948"/><use href="#q" x="1918" y="1633"/><use href="#q" x="3107" y="2124"/><use href="#q" x="4592" y="2497"/><use href="#q" x="3742" y="2791"/><use href="#q" x="3889" y="2791"/><use href="#q" x="3695" y="2903"/><use href="#q" x="2996" y="2903"/><use href="#q" x="3690" y="3042"/><use href="#q" x="2511" y="2643"/><use href="#q" x="1200" y="3647"/>
<use href="#pe" x="673" y="2586"/><use href="#pe" x="721" y="2823"/><use href="#pe" x="1637" y="1383"/><use href="#pe" x="889" y="1683"/><use href="#pe" x="2666" y="1867"/><use href="#pe" x="4986" y="332"/><use href="#pe" x="4257" y="2552"/><use href="#pe" x="4671" y="2991"/><use href="#pe" x="4994" y="3119"/><use href="#pe" x="5861" y="3132"/><use href="#pe" x="3916" y="785"/><use href="#pe" x="3570" y="3107"/><use href="#pe" x="1725" y="2916"/><use href="#pe" x="2313" y="3364"/><use href="#pe" x="1138" y="3395"/><use href="#pe" x="2432" y="3767"/><use href="#pe" x="2351" y="2582"/>
<use href="#fl" x="1031" y="2761"/><use href="#fl" x="1126" y="1730"/><use href="#fl" x="2767" y="1466"/><use href="#fl" x="3752" y="731"/><use href="#fl" x="4532" y="2548"/><use href="#fl" x="1307" y="3414"/>
</g>

<!-- Creatures and tokens -->
<g stroke="#000" stroke-width="3">
<ellipse cx="1181" cy="1647" rx="14" ry="12" fill="#2c9c4c"/><ellipse cx="1233" cy="1768" rx="14" ry="12" fill="#2fb060"/><ellipse cx="2933" cy="1826" rx="14" ry="9" fill="#18c8d8"/><ellipse cx="2647" cy="1932" rx="14" ry="9" fill="#fff"/><ellipse cx="3304" cy="3084" rx="14" ry="8" fill="#d81020"/><ellipse cx="5507" cy="804" rx="16" ry="12" fill="#1414c8"/><ellipse cx="750" cy="2481" rx="12" ry="12" fill="#c0392b"/><ellipse cx="308" cy="2533" rx="14" ry="11" fill="#c0392b"/><ellipse cx="1400" cy="2604" rx="8" ry="8" fill="#d81020"/><ellipse cx="964" cy="2675" rx="8" ry="13" fill="#f09090"/><ellipse cx="983" cy="2678" rx="6" ry="10" fill="#f09090"/><ellipse cx="117" cy="2471" rx="14" ry="15" fill="#aaa"/><ellipse cx="1559" cy="1395" rx="14" ry="16" fill="#aaa"/><ellipse cx="3111" cy="1705" rx="10" ry="12" fill="#bbb"/><ellipse cx="3487" cy="2372" rx="14" ry="10" fill="#aaa"/><ellipse cx="3870" cy="2543" rx="14" ry="10" fill="#888"/><ellipse cx="1798" cy="2759" rx="11" ry="10" fill="#fff"/><ellipse cx="1823" cy="2759" rx="11" ry="10" fill="#555"/><ellipse cx="2234" cy="3180" rx="14" ry="9" fill="#f0b0c0"/><ellipse cx="2708" cy="2587" rx="12" ry="11" fill="#d88030"/><ellipse cx="2737" cy="2587" rx="12" ry="11" fill="#d88030"/><ellipse cx="2300" cy="2338" rx="14" ry="9" fill="#1e78e0"/><ellipse cx="1782" cy="3077" rx="8" ry="10" fill="#1414c8"/><ellipse cx="4743" cy="2739" rx="20" ry="10" fill="#bbb"/><ellipse cx="4997" cy="3503" rx="14" ry="14" fill="#aaa"/><ellipse cx="4849" cy="2980" rx="10" ry="12" fill="#999"/><ellipse cx="4722" cy="3233" rx="10" ry="12" fill="#999"/><ellipse cx="4572" cy="3597" rx="7" ry="9" fill="#1e5ca0"/><ellipse cx="4019" cy="2900" rx="5" ry="15" fill="#c01020"/><ellipse cx="3890" cy="2900" rx="12" ry="13" fill="#aaa"/><ellipse cx="3568" cy="3163" rx="15" ry="12" fill="#6a8a5a"/><ellipse cx="3068" cy="3125" rx="7" ry="7" fill="#1e5ca0"/><ellipse cx="1802" cy="3816" rx="14" ry="9" fill="#777"/><ellipse cx="2347" cy="3785" rx="11" ry="8" fill="#888"/></g>

<!-- Region titles -->
<g>
<text class="h" x="301" y="2345" textLength="296" lengthAdjust="spacingAndGlyphs">МАССИВЫ ФЕРМ</text><text class="m" x="607" y="2345" textLength="36" lengthAdjust="spacingAndGlyphs">(LF)</text>
<text class="h" x="1269" y="1899" textLength="370" lengthAdjust="spacingAndGlyphs">НЕБЕСНЫЕ ОСТРОВА</text><text class="m" x="1648" y="1899" textLength="36" lengthAdjust="spacingAndGlyphs">(SI)</text>
<text class="h" x="2837" y="1543" textLength="214" lengthAdjust="spacingAndGlyphs">ДЫМОХОД</text><text class="m" x="3060" y="1543" textLength="42" lengthAdjust="spacingAndGlyphs">(CC)</text>
<text class="h" x="1947" y="2290" style="font-size:44px" textLength="535" lengthAdjust="spacingAndGlyphs">ПРОМЫШЛЕННЫЙ КОМПЛЕКС</text><text class="m" x="2490" y="2290" textLength="32" lengthAdjust="spacingAndGlyphs">(SI)</text>
<text class="h" x="3777" y="2376" textLength="436" lengthAdjust="spacingAndGlyphs">ЗАТЕНЁННАЯ ЦИТАДЕЛЬ</text><text class="m" x="4222" y="2376" textLength="42" lengthAdjust="spacingAndGlyphs">(SH)</text>
<text class="h" x="3927" y="1600" textLength="152" lengthAdjust="spacingAndGlyphs">КОРПУС</text><text class="m" x="4087" y="1600" textLength="51" lengthAdjust="spacingAndGlyphs">(UW)</text>
<text class="h" x="4628" y="1272" textLength="220" lengthAdjust="spacingAndGlyphs">ПЯТЬ ГАЛЕК</text><text class="m" x="4856" y="1272" textLength="41" lengthAdjust="spacingAndGlyphs">(SS)</text>
<text class="h" x="3261" y="2818" textLength="150" lengthAdjust="spacingAndGlyphs">СВАЛКА</text><text class="m" x="3423" y="2818" textLength="50" lengthAdjust="spacingAndGlyphs">(GW)</text>
<text class="h" x="2269" y="3035" textLength="182" lengthAdjust="spacingAndGlyphs">ОКРАИНА</text><text class="m" x="2463" y="3035" textLength="41" lengthAdjust="spacingAndGlyphs">(SU)</text>
<text class="h" x="2466" y="3404" textLength="420" lengthAdjust="spacingAndGlyphs">ДРЕНАЖНАЯ СИСТЕМА</text><text class="m" x="2895" y="3404" textLength="43" lengthAdjust="spacingAndGlyphs">(DS)</text>
<text class="h" x="1316" y="3561" textLength="222" lengthAdjust="spacingAndGlyphs">ПОДЗЕМКА</text><text class="m" x="1549" y="3561" textLength="38" lengthAdjust="spacingAndGlyphs">(SB)</text>
<text class="h" x="4490" y="3146" textLength="211" lengthAdjust="spacingAndGlyphs">ПОБЕРЕЖЬЕ</text><text class="m" x="4713" y="3146" textLength="37" lengthAdjust="spacingAndGlyphs">(SL)</text>
</g>

<!-- Coloured subregion labels -->
<g>
<text class="c" fill="#f488d8" x="1624" y="1526" textLength="172" lengthAdjust="spacingAndGlyphs">МАССИВ СВЯЗИ</text>
<text class="c" fill="#e81020" x="1544" y="3848" textLength="107" lengthAdjust="spacingAndGlyphs">СИСТЕМА</text>
<text class="c" fill="#e81020" x="1507" y="3874" textLength="144" lengthAdjust="spacingAndGlyphs">ФИЛЬТРАЦИИ</text>
<text class="c" fill="#f9e900" x="1521" y="4125" textLength="104" lengthAdjust="spacingAndGlyphs">ГЛУБИНЫ</text>
<text class="c" fill="#5b5bd8" x="4317" y="2824" textLength="194" lengthAdjust="spacingAndGlyphs">КРИПТЫ ПАМЯТИ</text>
<text class="c" fill="#8ec5f5" x="5708" y="3316" textLength="250" lengthAdjust="spacingAndGlyphs">СМОТРЯЩАЯ НА ЛУНУ</text>
<text class="c" fill="#ff14f0" x="5334" y="1310" textLength="131" lengthAdjust="spacingAndGlyphs">НЕУДАЧНАЯ</text>
<text class="c" fill="#ff14f0" x="5334" y="1334" textLength="145" lengthAdjust="spacingAndGlyphs">РАЗРАБОТКА</text>
<text class="c" fill="#1ee034" x="5189" y="477" textLength="102" lengthAdjust="spacingAndGlyphs">ГЛАВНАЯ</text>
<text class="c" fill="#1ee034" x="5189" y="500" textLength="135" lengthAdjust="spacingAndGlyphs">СИСТЕМНАЯ</text>
<text class="c" fill="#1ee034" x="5189" y="523" textLength="66" lengthAdjust="spacingAndGlyphs">ШИНА</text>
<text class="c" fill="#00eaf0" x="4589" y="576" textLength="93" lengthAdjust="spacingAndGlyphs">МАССИВ</text>
<text class="c" fill="#00eaf0" x="4589" y="600" textLength="155" lengthAdjust="spacingAndGlyphs">РЕКУРСИВНЫХ</text>
<text class="c" fill="#00eaf0" x="4589" y="623" textLength="206" lengthAdjust="spacingAndGlyphs">ПРЕОБРАЗОВАНИЙ</text>
<text class="c" fill="#f09a1c" x="5399" y="592" textLength="185" lengthAdjust="spacingAndGlyphs">СЛОТЫ ПАМЯТИ</text>
<text class="c" fill="#d02040" x="5435" y="1640" textLength="84" lengthAdjust="spacingAndGlyphs">ОПОРА</text>
<text class="c" fill="#f7ac42" x="3578" y="1217" textLength="72" lengthAdjust="spacingAndGlyphs">СТЕНА</text>
<text class="c" fill="#8b7059" x="4715" y="1745" textLength="94" lengthAdjust="spacingAndGlyphs">ПОДВЕС</text>
</g>

<!-- Small labels -->
<g>
<text class="s" x="814" y="2346" textLength="166" lengthAdjust="spacingAndGlyphs">НАЧАЛО КАМПАНИИ</text><text class="s" style="fill:#f08888" x="814" y="2363" textLength="91" lengthAdjust="spacingAndGlyphs">ОХОТНИКА</text>
<text class="s" x="840" y="2466" textLength="198" lengthAdjust="spacingAndGlyphs">ЗАСТАВА МУСОРЩИКОВ</text>
<text class="s" style="fill:#e02040" x="661" y="2613" textLength="71" lengthAdjust="spacingAndGlyphs">ЦВЕТНАЯ</text><text class="s" x="738" y="2613" textLength="106" lengthAdjust="spacingAndGlyphs">ЖЕМЧУЖИНА</text>
<text class="s" style="fill:#f7b840" x="294" y="2503" textLength="53" lengthAdjust="spacingAndGlyphs">АРЕНЫ</text>
<text class="s" x="1319" y="2618" textLength="53" lengthAdjust="spacingAndGlyphs">СКЛАД</text><text class="s" x="1319" y="2637" textLength="118" lengthAdjust="spacingAndGlyphs">МУСОРЩИКОВ</text>
<text class="s" x="1477" y="2613" textLength="67" lengthAdjust="spacingAndGlyphs">ТОЛЬКО</text><text class="s" x="1477" y="2634" textLength="30" lengthAdjust="spacingAndGlyphs">ДЛЯ</text>
<text class="s" style="fill:#f0b0e8" x="779" y="2761" textLength="226" lengthAdjust="spacingAndGlyphs">КОЛОКОЛ, ВОСЕМНАДЦАТЬ</text><text class="s" style="fill:#f0b0e8" x="779" y="2779" textLength="124" lengthAdjust="spacingAndGlyphs">ЯНТАРНЫХ БУС</text>
<text class="s" style="fill:#e02040" x="707" y="2851" textLength="72" lengthAdjust="spacingAndGlyphs">ЦВЕТНАЯ</text><text class="s" x="707" y="2869" textLength="106" lengthAdjust="spacingAndGlyphs">ЖЕМЧУЖИНА</text>
<text class="s" x="1475" y="2977" textLength="76" lengthAdjust="spacingAndGlyphs">ЗАСТАВА</text><text class="s" x="1475" y="2994" textLength="117" lengthAdjust="spacingAndGlyphs">МУСОРЩИКОВ</text>
<text class="s" style="fill:#3a78a8" x="1622" y="1409" textLength="71" lengthAdjust="spacingAndGlyphs">ЦВЕТНАЯ</text><text class="s" x="1700" y="1409" textLength="106" lengthAdjust="spacingAndGlyphs">ЖЕМЧУЖИНА</text>
<text class="s" style="fill:#f7b840" x="1001" y="1540" textLength="54" lengthAdjust="spacingAndGlyphs">АРЕНЫ</text>
<text class="s" style="fill:#f8d8a8" x="1159" y="1693" textLength="134" lengthAdjust="spacingAndGlyphs">КАПЛИ НА ПЯТИ</text><text class="s" style="fill:#f8d8a8" x="1159" y="1710" textLength="154" lengthAdjust="spacingAndGlyphs">БОЛЬШИХ КАПЛЯХ</text>
<text class="s" style="fill:#2f7f4f" x="879" y="1709" textLength="71" lengthAdjust="spacingAndGlyphs">ЦВЕТНАЯ</text><text class="s" x="879" y="1728" textLength="104" lengthAdjust="spacingAndGlyphs">ЖЕМЧУЖИНА</text>
<text class="s" x="1909" y="1664" textLength="193" lengthAdjust="spacingAndGlyphs">МУСОРЩИК-ТОРГОВЕЦ</text>
<text class="s" x="2748" y="1418" textLength="166" lengthAdjust="spacingAndGlyphs">ДЕВЯТНАДЦАТЬ ПИК,</text><text class="s" x="2748" y="1435" textLength="217" lengthAdjust="spacingAndGlyphs">БЕСКОНЕЧНЫЕ ОТРАЖЕНИЯ</text>
<text class="s" style="fill:#f7b840" x="2917" y="1781" textLength="52" lengthAdjust="spacingAndGlyphs">АРЕНЫ</text>
<text class="s" style="fill:#f0c020" x="2654" y="1893" textLength="70" lengthAdjust="spacingAndGlyphs">ЦВЕТНАЯ</text><text class="s" x="2654" y="1910" textLength="105" lengthAdjust="spacingAndGlyphs">ЖЕМЧУЖИНА</text>
<text class="s" x="3097" y="2152" textLength="53" lengthAdjust="spacingAndGlyphs">СКЛАД</text><text class="s" x="3097" y="2170" textLength="116" lengthAdjust="spacingAndGlyphs">МУСОРЩИКОВ</text>
<text class="s" x="4974" y="360" textLength="104" lengthAdjust="spacingAndGlyphs">ЖЕМЧУЖИНЫ</text><text class="s" style="fill:#f07820" x="4974" y="377" textLength="95" lengthAdjust="spacingAndGlyphs">ПЯТИ ГАЛЕК</text>
<text class="s" x="5445" y="839" textLength="68" lengthAdjust="spacingAndGlyphs">ТОЛЬКО</text><text class="s" x="5445" y="858" textLength="30" lengthAdjust="spacingAndGlyphs">ДЛЯ</text>
<text class="s" x="5045" y="1126" textLength="68" lengthAdjust="spacingAndGlyphs">ТОЛЬКО</text><text class="s" x="5045" y="1146" textLength="31" lengthAdjust="spacingAndGlyphs">ДЛЯ</text>
<text class="s" x="4583" y="2528" textLength="192" lengthAdjust="spacingAndGlyphs">МУСОРЩИК-ТОРГОВЕЦ</text>
<text class="s" style="fill:#f4f4a0" x="4572" y="2566" textLength="134" lengthAdjust="spacingAndGlyphs">ЧЕТЫРЕ ИГОЛКИ</text><text class="s" style="fill:#f4f4a0" x="4572" y="2583" textLength="246" lengthAdjust="spacingAndGlyphs">ПОД ОБИЛЬНЫМИ ЛИСТЬЯМИ</text>
<text class="s" style="fill:#f7b840" x="4445" y="2601" textLength="54" lengthAdjust="spacingAndGlyphs">АРЕНЫ</text>
<text class="s" style="fill:#d0205a" x="4244" y="2577" textLength="69" lengthAdjust="spacingAndGlyphs">ЦВЕТНАЯ</text><text class="s" x="4300" y="2616" textLength="105" lengthAdjust="spacingAndGlyphs">ЖЕМЧУЖИНА</text>
<text class="s" x="3733" y="2820" textLength="73" lengthAdjust="spacingAndGlyphs">ЗАСТАВА</text><text class="s" x="3733" y="2838" textLength="116" lengthAdjust="spacingAndGlyphs">МУСОРЩИКОВ</text>
<text class="s" x="3880" y="2820" textLength="83" lengthAdjust="spacingAndGlyphs">КРЕПОСТЬ</text><text class="s" x="3880" y="2838" textLength="117" lengthAdjust="spacingAndGlyphs">МУСОРЩИКОВ</text>
<text class="s" x="3688" y="2932" textLength="176" lengthAdjust="spacingAndGlyphs">СКЛАД МУСОРЩИКОВ</text>
<text class="s" style="fill:#8040d0" x="4659" y="3016" textLength="69" lengthAdjust="spacingAndGlyphs">ЦВЕТНАЯ</text><text class="s" x="4659" y="3035" textLength="103" lengthAdjust="spacingAndGlyphs">ЖЕМЧУЖИНА</text>
<text class="s" x="2987" y="2935" textLength="191" lengthAdjust="spacingAndGlyphs">МУСОРЩИК-ТОРГОВЕЦ</text>
<text class="s" x="3681" y="3071" textLength="197" lengthAdjust="spacingAndGlyphs">ЗАСТАВА МУСОРЩИКОВ</text>
<text class="s" style="fill:#f7b840" x="3138" y="3120" textLength="55" lengthAdjust="spacingAndGlyphs">АРЕНЫ</text>
<text class="s" style="fill:#30a090" x="3557" y="3135" textLength="71" lengthAdjust="spacingAndGlyphs">ЦВЕТНАЯ</text><text class="s" x="3636" y="3135" textLength="105" lengthAdjust="spacingAndGlyphs">ЖЕМЧУЖИНА</text>
<text class="s" style="fill:#f7b840" x="3066" y="2583" textLength="53" lengthAdjust="spacingAndGlyphs">АРЕНЫ</text>
<text class="s" style="fill:#f7b840" x="2688" y="3284" textLength="51" lengthAdjust="spacingAndGlyphs">АРЕНЫ</text>
<text class="s" style="fill:#3a6ae0" x="2338" y="2555" textLength="71" lengthAdjust="spacingAndGlyphs">ЦВЕТНАЯ</text><text class="s" x="2338" y="2571" textLength="104" lengthAdjust="spacingAndGlyphs">ЖЕМЧУЖИНА</text>
<text class="s" x="2116" y="2672" textLength="71" lengthAdjust="spacingAndGlyphs">ТОЛЬКО</text><text class="s" x="2119" y="2694" textLength="31" lengthAdjust="spacingAndGlyphs">ДЛЯ</text>
<text class="s" x="2501" y="2673" textLength="176" lengthAdjust="spacingAndGlyphs">СКЛАД МУСОРЩИКОВ</text>
<text class="s" style="fill:#8098c8" x="1713" y="2942" textLength="69" lengthAdjust="spacingAndGlyphs">ЦВЕТНАЯ</text><text class="s" x="1713" y="2960" textLength="105" lengthAdjust="spacingAndGlyphs">ЖЕМЧУЖИНА</text>
<text class="s" style="fill:#f7b840" x="1787" y="3126" textLength="54" lengthAdjust="spacingAndGlyphs">АРЕНЫ</text>
<text class="s" x="1922" y="3123" textLength="163" lengthAdjust="spacingAndGlyphs">НАЧАЛО КАМПАНИИ</text><text class="s" style="fill:#f0f080" x="1922" y="3141" textLength="74" lengthAdjust="spacingAndGlyphs">МОНАХА</text><text class="s" x="1996" y="3141" textLength="115" lengthAdjust="spacingAndGlyphs">/ВЫЖИВШЕГО</text>
<text class="s" style="fill:#30c050" x="2301" y="3389" textLength="72" lengthAdjust="spacingAndGlyphs">ЦВЕТНАЯ</text><text class="s" x="2301" y="3407" textLength="106" lengthAdjust="spacingAndGlyphs">ЖЕМЧУЖИНА</text>
<text class="s" style="fill:#c8a0f8" x="1337" y="3417" textLength="108" lengthAdjust="spacingAndGlyphs">ДВА РОСТКА,</text><text class="s" style="fill:#c8a0f8" x="1337" y="3434" textLength="182" lengthAdjust="spacingAndGlyphs">ДВЕНАДЦАТЬ СКОБОК</text>
<text class="s" style="fill:#a03050" x="1125" y="3422" textLength="72" lengthAdjust="spacingAndGlyphs">ЦВЕТНАЯ</text><text class="s" x="1125" y="3440" textLength="105" lengthAdjust="spacingAndGlyphs">ЖЕМЧУЖИНА</text>
<text class="s" x="1192" y="3677" textLength="104" lengthAdjust="spacingAndGlyphs">МУСОРЩИК-</text><text class="s" x="1192" y="3695" textLength="89" lengthAdjust="spacingAndGlyphs">ТОРГОВЕЦ</text>
<text class="s" x="1613" y="3651" textLength="69" lengthAdjust="spacingAndGlyphs">ТОЛЬКО</text><text class="s" x="1613" y="3669" textLength="32" lengthAdjust="spacingAndGlyphs">ДЛЯ</text>
<text class="s" style="fill:#f7b840" x="2011" y="3789" textLength="58" lengthAdjust="spacingAndGlyphs">АРЕНЫ</text>
<text class="s" style="fill:#60a0a0" x="2417" y="3795" textLength="70" lengthAdjust="spacingAndGlyphs">ЦВЕТНАЯ</text><text class="s" x="2495" y="3795" textLength="105" lengthAdjust="spacingAndGlyphs">ЖЕМЧУЖИНА</text>
<text class="s" style="fill:#f020a0" x="4983" y="3145" textLength="71" lengthAdjust="spacingAndGlyphs">ЦВЕТНАЯ</text><text class="s" x="4983" y="3163" textLength="105" lengthAdjust="spacingAndGlyphs">ЖЕМЧУЖИНА</text>
<text class="s" x="5174" y="3161" textLength="67" lengthAdjust="spacingAndGlyphs">ТОЛЬКО</text><text class="s" x="5174" y="3181" textLength="31" lengthAdjust="spacingAndGlyphs">ДЛЯ</text>
<text class="s" style="fill:#e8e860" x="5846" y="3161" textLength="72" lengthAdjust="spacingAndGlyphs">ЦВЕТНАЯ</text><text class="s" x="5925" y="3161" textLength="105" lengthAdjust="spacingAndGlyphs">ЖЕМЧУЖИНА</text>
<text class="s" style="fill:#f7b840" x="4538" y="3659" textLength="57" lengthAdjust="spacingAndGlyphs">АРЕНЫ</text>
<text class="s" style="fill:#b0f8f8" x="3767" y="686" textLength="213" lengthAdjust="spacingAndGlyphs">ШЕСТЬ ПЕСЧИНОК ГРАВИЯ,</text><text class="s" style="fill:#b0f8f8" x="3767" y="705" textLength="183" lengthAdjust="spacingAndGlyphs">ИЗОБИЛУЮЩИЕ ГОРЫ</text>
<text class="s" style="fill:#80a090" x="3905" y="813" textLength="70" lengthAdjust="spacingAndGlyphs">ЦВЕТНАЯ</text><text class="s" x="3984" y="813" textLength="103" lengthAdjust="spacingAndGlyphs">ЖЕМЧУЖИНА</text>
<text class="s" style="fill:#f7b840" x="4417" y="1694" textLength="51" lengthAdjust="spacingAndGlyphs">АРЕНЫ</text>
</g>
</svg>
</body></html>
